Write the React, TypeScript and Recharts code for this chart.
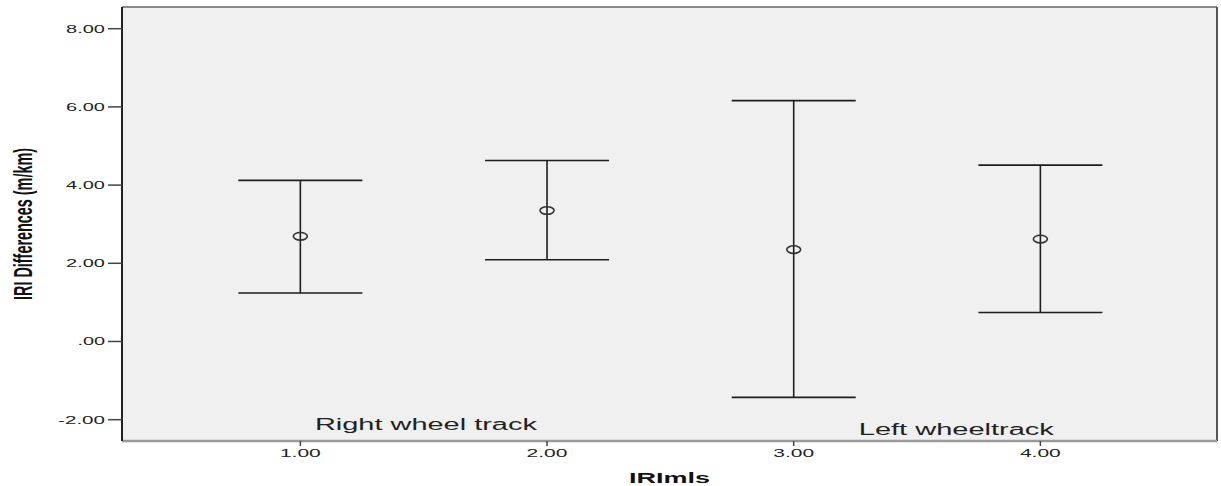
import {
  CartesianGrid,
  ErrorBar,
  ReferenceDot,
  ReferenceLine,
  Scatter,
  ScatterChart,
  XAxis,
  YAxis,
} from "recharts";

// group codes (IRImls) and the mean / 95% CI
const groups = [1, 2, 3, 4];
const means = [2.69, 3.35, 2.35, 2.62];
const upperCI = [4.12, 4.63, 6.16, 4.51];
const lowerCI = [1.24, 2.09, -1.43, 0.74];

const xTicks = [1, 2, 3, 4];
const yTicks = [-2, 0, 2, 4, 6, 8];
const xDomain: [number, number] = [0.277, 4.716];
const yDomain: [number, number] = [-2.545, 8.555];

const noteTexts = ["Right wheel track", "Left wheeltrack"];
const noteX = [1.059, 3.264];
const noteY = [-2.263, -2.39];

const points = groups.map((g, i) => ({
  x: g,
  mean: means[i],
  err: [means[i] - lowerCI[i], upperCI[i] - means[i]],
}));

const fmt = (v: number) => (v === 0 ? ".00" : v.toFixed(2));

// rough glyph widths of the stretched SPSS tick font
const labelWidth = (s: string) =>
  s.split("").reduce((w, c) => w + (c === "." ? 5 : c === "-" ? 8 : 11.3), 0);

const YTick = (props: any) => {
  const { x, y, payload } = props;
  const s = fmt(payload.value);
  return (
    <text
      x={x - 1}
      y={y + 4}
      textAnchor="end"
      fontSize={11}
      fill="#222"
      fontFamily="Liberation Sans, Arial, sans-serif"
      textLength={labelWidth(s)}
      lengthAdjust="spacingAndGlyphs"
    >
      {s}
    </text>
  );
};

const XTick = (props: any) => {
  const { x, y, payload } = props;
  const s = fmt(payload.value);
  return (
    <text
      x={x}
      y={y + 9}
      textAnchor="middle"
      fontSize={11}
      fill="#222"
      fontFamily="Liberation Sans, Arial, sans-serif"
      textLength={labelWidth(s) + 2}
      lengthAdjust="spacingAndGlyphs"
    >
      {s}
    </text>
  );
};

const MeanMarker = (props: any) => {
  const { cx, cy } = props;
  if (cx == null || cy == null) return null;
  return (
    <ellipse cx={cx} cy={cy} rx={7} ry={3.8} fill="none" stroke="#333" strokeWidth={1.6} />
  );
};

const noteLengths = [222, 195];

export default function App() {
  return (
    <div style={{ position: "absolute", left: 0, top: 0, background: "#fff" }}>
      <ScatterChart
        width={1221}
        height={486}
        margin={{ top: 7, right: 4, left: 0, bottom: 0 }}
      >
        <CartesianGrid fill="#f0f0f0" horizontal={false} vertical={false} />
        <XAxis
          type="number"
          dataKey="x"
          domain={xDomain}
          ticks={xTicks}
          allowDataOverflow
          height={45}
          tickSize={5}
          tickMargin={2}
          stroke="#444"
          axisLine={{ stroke: "#9a9a9a", strokeWidth: 2.5 }}
          tickLine={{ stroke: "#444", strokeWidth: 1.5 }}
          tick={<XTick />}
          label={{
            content: (p: any) => {
              const vb = p.viewBox;
              return (
                <text
                  x={vb.x + vb.width / 2}
                  y={vb.y + 42}
                  textAnchor="middle"
                  fontSize={15}
                  fontWeight="bold"
                  fill="#111"
                  fontFamily="Liberation Sans, Arial, sans-serif"
                  textLength={81}
                  lengthAdjust="spacingAndGlyphs"
                >
                  IRImls
                </text>
              );
            },
          }}
        />
        <YAxis
          type="number"
          dataKey="mean"
          domain={yDomain}
          ticks={yTicks}
          allowDataOverflow
          width={122}
          tickSize={14}
          tickMargin={2}
          axisLine={{ stroke: "#222", strokeWidth: 2 }}
          tickLine={{ stroke: "#444", strokeWidth: 1.5 }}
          tick={<YTick />}
          label={{
            content: (p: any) => {
              const vb = p.viewBox;
              const cy = vb.y + vb.height / 2;
              return (
                <text
                  x={32}
                  y={cy}
                  transform={`rotate(-90 32 ${cy})`}
                  textAnchor="middle"
                  fontSize={26}
                  fontWeight="bold"
                  fill="#111"
                  fontFamily="Liberation Sans, Arial, sans-serif"
                  textLength={152}
                  lengthAdjust="spacingAndGlyphs"
                >
                  IRI Differences (m/km)
                </text>
              );
            },
          }}
        />
        <ReferenceLine y={yDomain[1]} stroke="#8a8a8a" strokeWidth={2} />
        <ReferenceLine x={xDomain[1]} stroke="#555" strokeWidth={2} />
        <Scatter data={points} isAnimationActive={false} shape={<MeanMarker />}>
          <ErrorBar
            dataKey="err"
            direction="y"
            width={62}
            stroke="#1e1e1e"
            strokeWidth={1.6}
            isAnimationActive={false}
          />
        </Scatter>
        {noteTexts.map((t, i) => (
          <ReferenceDot
            key={t}
            x={noteX[i]}
            y={noteY[i]}
            r={0}
            shape={(p: any) => (
              <text
                x={p.cx}
                y={p.cy}
                fontSize={16}
                fill="#222"
                fontFamily="Liberation Sans, Arial, sans-serif"
                textLength={noteLengths[i]}
                lengthAdjust="spacingAndGlyphs"
              >
                {t}
              </text>
            )}
          />
        ))}
      </ScatterChart>
    </div>
  );
}
